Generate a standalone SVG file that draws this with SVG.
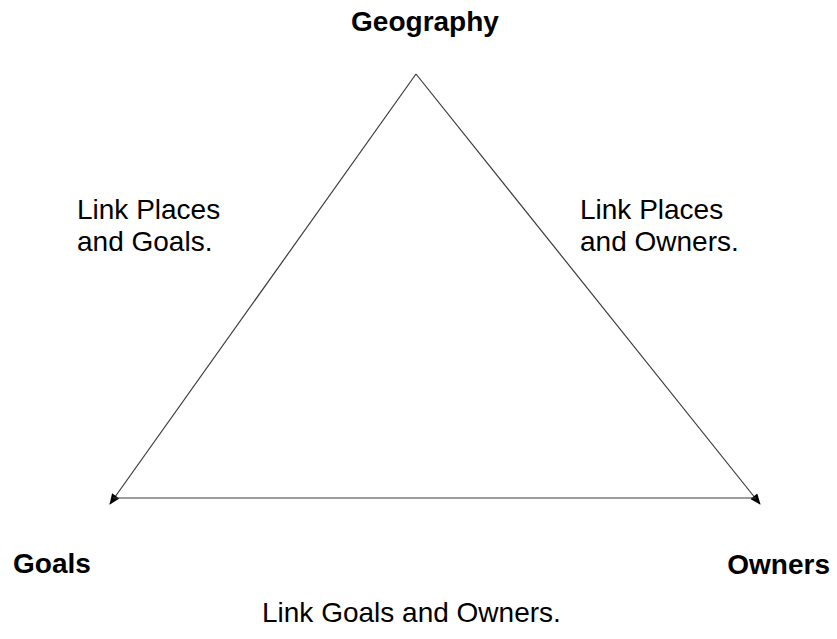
<svg xmlns="http://www.w3.org/2000/svg" width="837" height="639" viewBox="0 0 837 639">
<style>
.lbl{font-family:"Liberation Sans",Arial,sans-serif;font-size:28px;fill:#000}
.b{font-weight:bold}
.edge{stroke:#3a3a3a;stroke-width:1.2;fill:none}
</style>
<defs>
<marker id="arr" viewBox="0 0 12 10" refX="11" refY="5" markerWidth="12" markerHeight="9" markerUnits="userSpaceOnUse" orient="auto">
<path d="M0,0 L12,5 L0,10 z" fill="#000"/>
</marker>
</defs>
<rect width="837" height="639" fill="#fff"/>
<g id="connectors">
<line class="edge" x1="416" y1="74" x2="110" y2="504" marker-end="url(#arr)"/>
<line class="edge" x1="416" y1="74" x2="760" y2="504" marker-end="url(#arr)"/>
<line class="edge" x1="113" y1="498" x2="756" y2="498"/>
</g>
<g id="geography"><text class="lbl b" x="425" y="31" text-anchor="middle">Geography</text></g>
<g id="goals"><text class="lbl b" x="13" y="573">Goals</text></g>
<g id="owners"><text class="lbl b" x="830" y="574" text-anchor="end">Owners</text></g>
<g id="link-places-goals"><text class="lbl" x="77" y="219">Link Places</text><text class="lbl" x="77" y="251">and Goals.</text></g>
<g id="link-places-owners"><text class="lbl" x="580" y="219">Link Places</text><text class="lbl" x="580" y="251">and Owners.</text></g>
<g id="link-goals-owners"><text class="lbl" x="262" y="622">Link Goals and Owners.</text></g>
</svg>
